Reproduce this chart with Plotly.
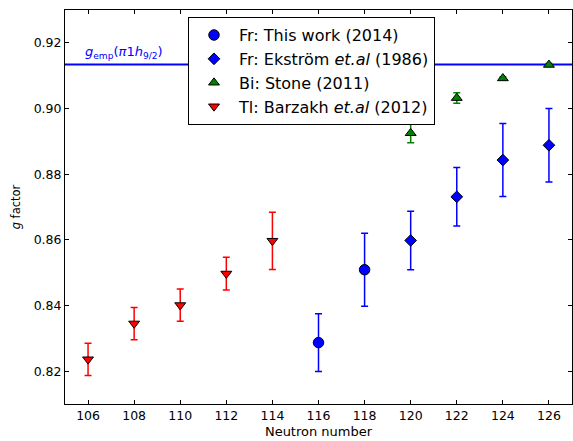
import plotly.graph_objects as go

# Neutron numbers, g factors and uncertainties for each data set
tl_N = [106, 108, 110, 112, 114]
tl_g = [0.8236, 0.8345, 0.8401, 0.8497, 0.8597]
tl_err = [0.0049, 0.0049, 0.0049, 0.0050, 0.0087]

fr_N = [116, 118]
fr_g = [0.8287, 0.8509]
fr_err = [0.0088, 0.0111]

ek_N = [120, 122, 124, 126]
ek_g = [0.8598, 0.8731, 0.8843, 0.8888]
ek_err = [0.0089, 0.0089, 0.0111, 0.0112]

bi_N = [120, 122, 124, 126]
bi_g = [0.8925, 0.9032, 0.9092, 0.9133]
bi_err = [0.0029, 0.0016, 0.0004, 0.0004]

# Empirical single-particle g factor for pi 1h9/2
g_emp = 0.9134

x_ticks = [106, 108, 110, 112, 114, 116, 118, 120, 122, 124, 126]
y_ticks = [0.82, 0.84, 0.86, 0.88, 0.90, 0.92]

FONT = "DejaVu Sans"


def series(x, y, err, name, color, symbol, size):
    return go.Scatter(
        x=x, y=y, name=name, mode="markers",
        marker=dict(symbol=symbol, size=size, color=color,
                    line=dict(color="black", width=1)),
        error_y=dict(type="data", array=err, visible=True,
                     color=color, thickness=1.5, width=3.5),
    )


fig = go.Figure()
fig.add_trace(series(fr_N, fr_g, fr_err, "Fr: This work (2014)",
                     "#0000ff", "circle", 10.5))
fig.add_trace(series(ek_N, ek_g, ek_err, "Fr: Ekström <i>et.al</i> (1986)",
                     "#0000ff", "diamond", 9))
fig.add_trace(series(bi_N, bi_g, bi_err, "Bi: Stone (2011)",
                     "#008000", "triangle-up", 9.5))
fig.add_trace(series(tl_N, tl_g, tl_err, "Tl: Barzakh <i>et.al</i> (2012)",
                     "#ff0000", "triangle-down", 9.5))

fig.add_shape(type="line", xref="paper", yref="y", x0=0, x1=1,
              y0=g_emp, y1=g_emp, line=dict(color="#0000ff", width=2),
              layer="below")
fig.add_annotation(
    x=107.55, y=g_emp, xref="x", yref="y", yshift=2, xanchor="center",
    text="<i>g</i><sub>emp</sub>(<i>π</i>1<i>h</i><sub>9/2</sub>)",
    showarrow=False, yanchor="bottom",
    font=dict(family=FONT, size=13, color="#0000ff"),
)

axis_common = dict(
    showgrid=False, zeroline=False, showline=True, linecolor="black",
    linewidth=1, mirror="ticks", ticks="inside", ticklen=4,
    tickcolor="black", tickwidth=1,
    tickfont=dict(family=FONT, size=12.5, color="black"),
)

fig.update_xaxes(range=[105, 127], tickvals=x_ticks,
                 title=dict(text="Neutron number", standoff=4,
                            font=dict(family=FONT, size=13, color="black")),
                 **axis_common)
fig.update_yaxes(range=[0.81, 0.93], tickvals=y_ticks,
                 ticktext=[f"{v:.2f}" for v in y_ticks],
                 title=dict(text="<i>g</i> factor", standoff=10,
                            font=dict(family=FONT, size=11.5, color="black")),
                 **axis_common)

fig.update_layout(
    width=573, height=441,
    margin=dict(l=65, r=1, t=10, b=37),
    plot_bgcolor="white", paper_bgcolor="white",
    font=dict(family=FONT, color="black"),
    showlegend=True,
    legend=dict(x=0.2426, y=0.982, xanchor="left", yanchor="top",
                bordercolor="black", borderwidth=1, bgcolor="white",
                font=dict(family=FONT, size=16, color="black"),
                tracegroupgap=0, itemwidth=40),
)

fig.write_html("out.html")
